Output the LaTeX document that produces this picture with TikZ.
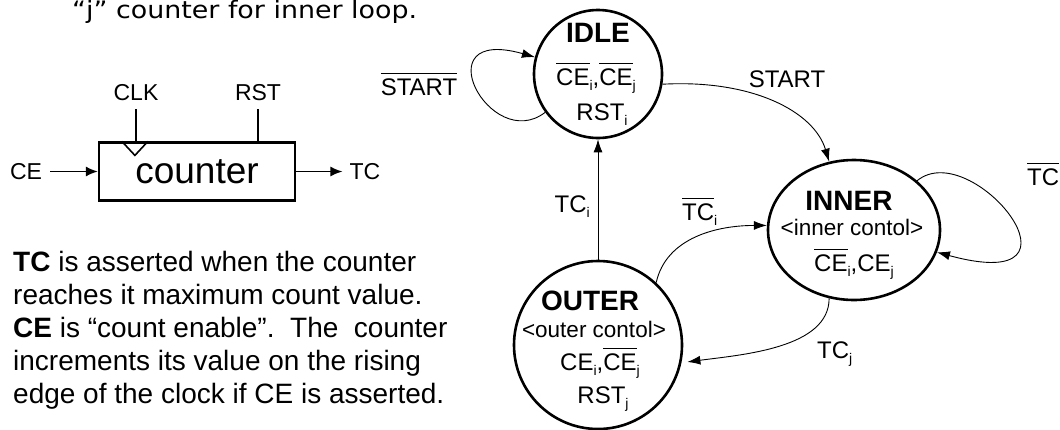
\documentclass[tikz,border=0pt]{standalone}
\usepackage{fontspec}
\setmainfont{Liberation Sans}
\newfontfamily\notefont[FakeStretch=1.12]{DejaVu Sans}
\usetikzlibrary{arrows.meta,positioning,calc,shapes.geometric}
\newcommand{\ovl}[1]{\vbox{\hrule height 1.6pt\kern 4pt\hbox{#1}}}
\newcommand{\sbs}[1]{\raisebox{-5pt}{\fontsize{14}{14}\selectfont #1}}
\tikzset{
  state/.style={draw, line width=2.6pt, inner sep=0pt},
  stname/.style={font=\fontsize{28}{30}\selectfont\bfseries, anchor=base, inner sep=0pt},
  stout/.style={font=\fontsize{24}{26}\selectfont, anchor=base, inner sep=0pt},
  stnote/.style={font=\fontsize{22.5}{24}\selectfont, anchor=base, inner sep=0pt},
  trans/.style={line width=0.9pt, -{Latex[length=13pt,width=9pt]}},
  tlabel/.style={font=\fontsize{24}{26}\selectfont, inner sep=0pt},
  sig/.style={font=\fontsize{23}{25}\selectfont, inner sep=0pt},
  wire/.style={line width=1.6pt, -{Latex[length=12pt,width=10pt]}}
}

\begin{document}
\begin{tikzpicture}[x=1pt, y=-1pt]
  \useasboundingbox (0,0) rectangle (1060,429);
  % note at the top
  \node[anchor=base west, font=\notefont\fontsize{24}{26}\selectfont, inner sep=0pt] (title) at (72,18) {“j” counter for inner loop.};

  % counter block
  \node[draw, line width=2.2pt, minimum width=196pt, minimum height=58pt, inner sep=0pt,
        font=\fontsize{37}{40}\selectfont] (cnt) at (197,171.5) {counter};
  \draw[line width=1.6pt] ($(cnt.north west)+(24,0)$) -- ++(13,14) -- ++(13,-14);
  \node[sig] (clk) at (136,93) {CLK};
  \node[sig] (rst) at (258,93) {RST};
  \draw[line width=1.6pt] ($(clk.south)+(0,8)$) -- (clk.south |- cnt.north);
  \draw[line width=1.6pt] ($(rst.south)+(0,8)$) -- (rst.south |- cnt.north);
  \node[sig] (ce) at (26,171.5) {CE};
  \node[sig] (tc) at (365,171.5) {TC};
  \draw[wire, shorten <=8pt] (ce.east) -- (cnt.west);
  \draw[wire, shorten >=7pt] (cnt.east) -- (tc.west);

  \node[anchor=north west, align=left, inner sep=0pt, font=\fontsize{28}{33}\selectfont] (note) at (13,251) {%
    \textbf{TC} is asserted when the counter\\
    reaches it maximum count value.\\
    \textbf{CE} is “count enable”.\ \ The\ \ counter\\
    increments its value on the rising\\
    edge of the clock if CE is asserted.};

  % states
  \node[state, circle, minimum size=128pt] (idle) at (598,74) {};
  \node[state, ellipse, minimum width=172pt, minimum height=140pt] (inner) at (854,230) {};
  \node[state, circle, minimum size=168pt] (outer) at (598,345) {};

  \node[stname] (idle-name) at ($(idle)+(0,-32)$) {IDLE};
  \node[stout] (idle-ce) at ($(idle)+(-2,11)$) {\ovl{CE}\sbs{i},\ovl{CE}\sbs{j}};
  \node[stout] (idle-rst) at ($(idle)+(4,46)$) {RST\sbs{i}};

  \node[stname] (inner-name) at ($(inner)+(-5,-20)$) {INNER};
  \node[stnote] (inner-note) at ($(inner)+(-2,5)$) {<inner contol>};
  \node[stout] (inner-ce) at ($(inner)+(0,41)$) {\ovl{CE}\sbs{i},CE\sbs{j}};

  \node[stname] (outer-name) at ($(outer)+(-8,-35)$) {OUTER};
  \node[stnote] (outer-note) at ($(outer)+(-4,-8)$) {<outer contol>};
  \node[stout] (outer-ce) at ($(outer)+(2,25)$) {CE\sbs{i},\ovl{CE}\sbs{j}};
  \node[stout] (outer-rst) at ($(outer)+(5,58)$) {RST\sbs{j}};

  % transitions
  \draw[trans] (idle.216) .. controls +(-55,42) and +(-113,-32) .. (idle.165);
  \node[tlabel, anchor=base] (l-nstart) at (419,95) {\ovl{START}};

  \draw[trans] (idle.-9) .. controls +(90,-5) and +(-15,-50) .. (inner.110);
  \node[tlabel, anchor=base] (l-start) at (787,87) {START};

  \draw[trans] (inner.38) .. controls +(55,-45) and +(165,45) .. (inner.345);
  \node[tlabel, anchor=base west] (l-ntcj) at (1027,185) {\ovl{TC}};

  \draw[trans] (outer.90) -- (idle.270);
  \node[tlabel, anchor=base east] (l-tci) at (590,212) {TC\sbs{i}};

  \draw[trans] (outer.47) .. controls +(10,-45) and +(-50,0) .. (inner.177);
  \node[tlabel, anchor=base west] (l-ntci) at (682,220) {\ovl{TC}\sbs{i}};

  \draw[trans, shorten >=6pt] (inner.250) .. controls +(0,50) and +(60,-8) .. (outer.348);
  \node[tlabel, anchor=base west] (l-tcj) at (817,358) {TC\sbs{j}};
\end{tikzpicture}
\end{document}
